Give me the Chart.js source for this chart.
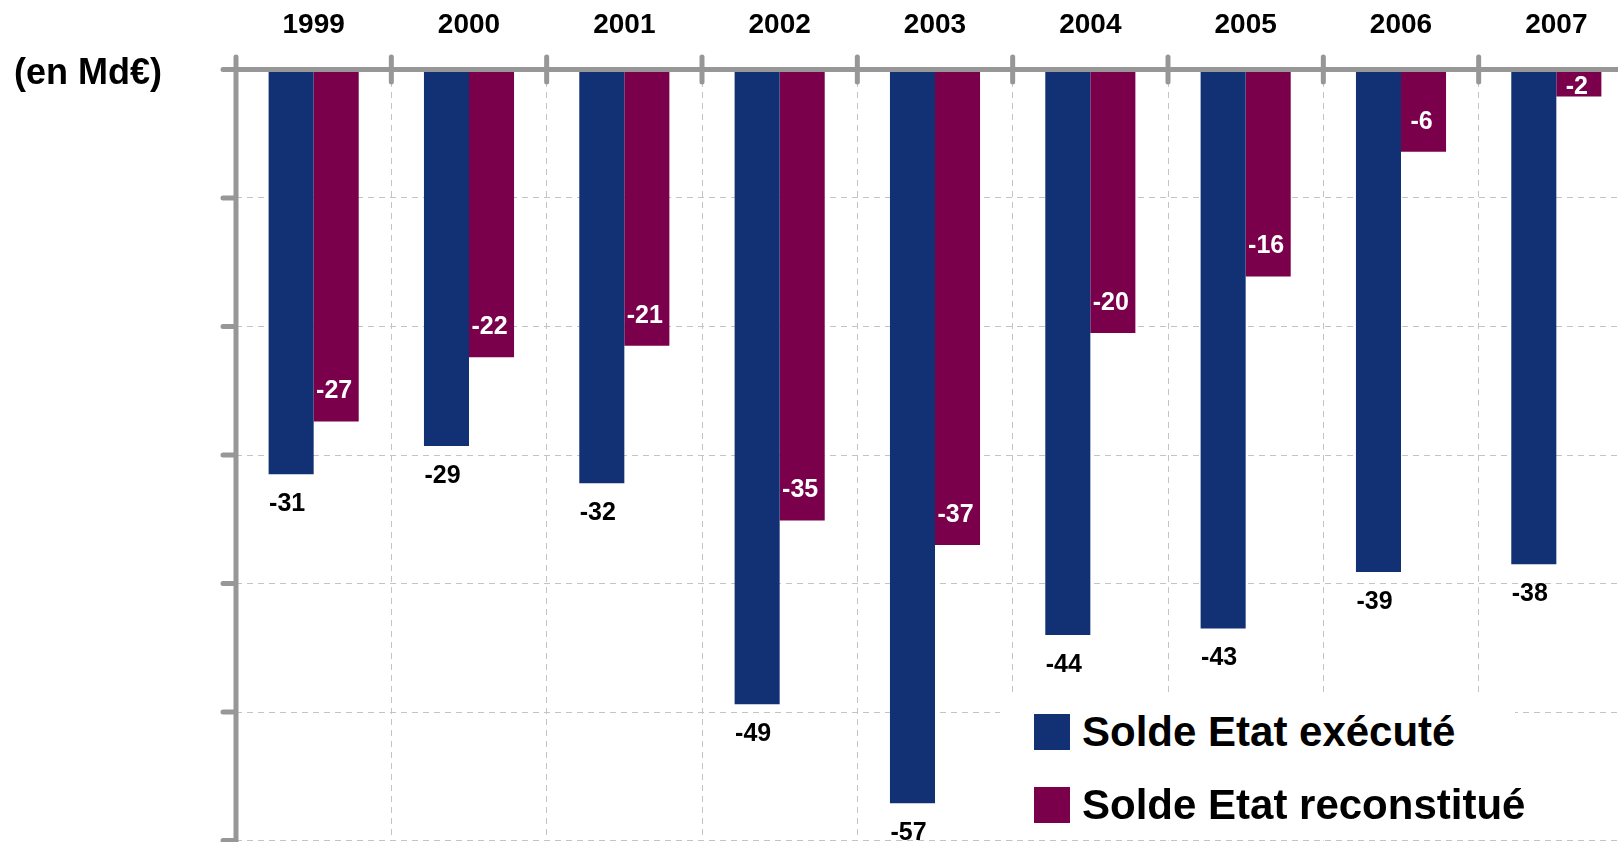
<!DOCTYPE html>
<html>
<head>
<meta charset="utf-8">
<script src="https://cdn.jsdelivr.net/npm/chart.js@4.4.1/dist/chart.umd.min.js"></script>
<style>
html,body{margin:0;padding:0;background:#fff;overflow:hidden;width:1618px;height:842px;}
#wrap{position:absolute;left:0;top:0;width:1640px;height:842px;}
#unit{position:absolute;left:14px;top:50px;font:bold 36px "Liberation Sans",Arial,sans-serif;line-height:44px;color:#000;white-space:nowrap;}
#legend{position:absolute;left:1000px;top:693px;width:515px;height:143px;background:#fff;font:bold 42px "Liberation Sans",Arial,sans-serif;color:#000;}
.item{position:absolute;left:34px;height:36px;display:flex;align-items:center;white-space:nowrap;}
.sw{width:36px;height:36px;margin-right:12px;flex:none;}
</style>
</head>
<body>
<div id="wrap"><canvas id="c" width="1640" height="842" style="width:1640px;height:842px"></canvas></div>
<div id="unit">(en Md€)</div>
<div id="legend"></div>
<script>
const years = ['1999','2000','2001','2002','2003','2004','2005','2006','2007'];
const executed = [-31.5, -29.3, -32.2, -49.4, -57.1, -44.0, -43.5, -39.1, -38.5];
const reconstructed = [-27.4, -22.4, -21.5, -35.1, -37.0, -20.5, -16.1, -6.4, -2.1];
const seriesNames = ['Solde Etat exécuté', 'Solde Etat reconstitué'];
const seriesColors = ['#113174', '#7b004b'];
const yMin = -60, yMax = 0, yStep = 10;

const FONT = '"Liberation Sans", Arial, sans-serif';
const AXIS = '#979797';
const GRID = '#c4c4c4';

// HTML legend
const lg = document.getElementById('legend');
seriesNames.forEach((n, i) => {
  const d = document.createElement('div');
  d.className = 'item';
  d.style.top = (21 + i * 73) + 'px';
  d.innerHTML = '<span class="sw" style="background:' + seriesColors[i] + '"></span><span>' + n + '</span>';
  lg.appendChild(d);
});

const overlay = {
  id: 'overlay',
  afterDatasetsDraw(chart) {
    const ctx = chart.ctx;
    const xs = chart.scales.x, ys = chart.scales.y;
    const ca = chart.chartArea;
    const y0 = ys.getPixelForValue(0);
    ctx.save();
    // labels
    ctx.font = 'bold 25px ' + FONT;
    ctx.textAlign = 'center';
    ctx.textBaseline = 'middle';
    chart.getDatasetMeta(0).data.forEach((bar, i) => {
      ctx.fillStyle = '#000';
      ctx.fillText(String(Math.round(executed[i])), bar.x - 4, bar.y + 30);
    });
    chart.getDatasetMeta(1).data.forEach((bar, i) => {
      ctx.fillStyle = '#fff';
      const y = Math.max(bar.y - 30, y0 + 18);
      ctx.fillText(String(Math.round(reconstructed[i])), bar.x - 2, y);
    });
    // axes
    ctx.strokeStyle = AXIS;
    ctx.lineWidth = 5;
    ctx.lineCap = 'round';
    ctx.beginPath();
    ctx.moveTo(ca.left - 13, y0);
    ctx.lineTo(chart.width + 10, y0);
    ctx.moveTo(ca.left, y0 - 12.5);
    ctx.lineTo(ca.left, chart.height + 10);
    for (let v = yMin; v <= yMax; v += yStep) {
      const y = ys.getPixelForValue(v);
      ctx.moveTo(ca.left - 13, y);
      ctx.lineTo(ca.left, y);
    }
    const n = years.length;
    const cw = (ca.right - ca.left) / n;
    for (let i = 1; i <= n; i++) {
      const x = ca.left + i * cw;
      ctx.moveTo(x, y0 - 12.5);
      ctx.lineTo(x, y0 + 12.5);
    }
    ctx.stroke();
    ctx.restore();
  }
};

new Chart(document.getElementById('c'), {
  type: 'bar',
  data: {
    labels: years,
    datasets: [
      { label: seriesNames[0], data: executed, backgroundColor: seriesColors[0], borderWidth: 0 },
      { label: seriesNames[1], data: reconstructed, backgroundColor: seriesColors[1], borderWidth: 0 }
    ]
  },
  options: {
    responsive: false,
    animation: false,
    devicePixelRatio: 1,
    categoryPercentage: 0.58,
    barPercentage: 1,
    layout: { padding: { left: 0, right: 6, top: 0, bottom: 1.5 } },
    plugins: { legend: { display: false }, tooltip: { enabled: false } },
    scales: {
      x: {
        position: 'top',
        offset: true,
        grid: { offset: true, color: GRID, lineWidth: 1, drawTicks: false },
        border: { display: false, dash: [6, 5] },
        ticks: { font: { family: FONT, size: 28, weight: 'bold' }, color: '#000', padding: 27, maxRotation: 0 },
        afterFit(s) { s.height = 69.5; }
      },
      y: {
        min: yMin, max: yMax,
        ticks: { stepSize: yStep, display: false },
        grid: { color: GRID, lineWidth: 1, drawTicks: false },
        border: { display: false, dash: [6, 5] },
        afterFit(s) { s.width = 236; }
      }
    }
  },
  plugins: [overlay]
});
</script>
</body>
</html>
